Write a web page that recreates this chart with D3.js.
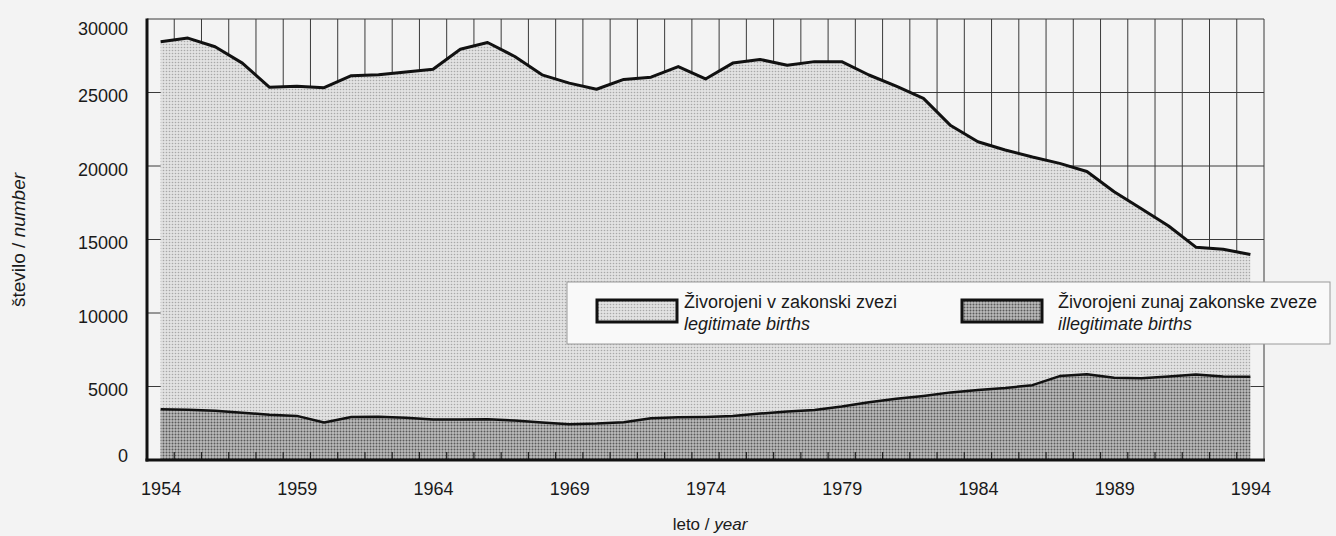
<!DOCTYPE html>
<html>
<head>
<meta charset="utf-8">
<script src="https://cdn.jsdelivr.net/npm/d3@7"></script>
<style>
  html, body { margin: 0; padding: 0; background: #f3f3f3; }
  svg { display: block; font-family: "Liberation Sans", Arial, sans-serif; }
</style>
</head>
<body>
<svg id="chart" width="1336" height="536"></svg>
<script>
// ── Data ──────────────────────────────────────────────────────────────────────
const years = [
  1954, 1955, 1956, 1957, 1958, 1959, 1960, 1961, 1962, 1963, 1964,
  1965, 1966, 1967, 1968, 1969, 1970, 1971, 1972, 1973, 1974, 1975,
  1976, 1977, 1978, 1979, 1980, 1981, 1982, 1983, 1984, 1985, 1986,
  1987, 1988, 1989, 1990, 1991, 1992, 1993, 1994
];
const legitimate = [
  28450, 28700, 28110, 27000, 25350, 25420, 25330, 26140, 26200, 26400, 26580,
  27940, 28400, 27450, 26200, 25640, 25220, 25890, 26040, 26760, 25920, 27000,
  27250, 26850, 27100, 27100, 26190, 25430, 24600, 22750, 21650, 21090, 20610,
  20180, 19630, 18250, 17090, 15920, 14480, 14340, 13980
];
const illegitimate = [
  3450, 3420, 3350, 3220, 3080, 3000, 2550, 2920, 2950, 2880, 2750,
  2750, 2780, 2680, 2550, 2440, 2480, 2570, 2840, 2900, 2930, 2990,
  3160, 3300, 3400, 3640, 3930, 4160, 4360, 4600, 4760, 4900, 5090,
  5710, 5840, 5590, 5560, 5680, 5820, 5680, 5660
];
const yTicks = [0, 5000, 10000, 15000, 20000, 25000, 30000];
const xLabelYears = [1954, 1959, 1964, 1969, 1974, 1979, 1984, 1989, 1994];
const legendNames   = ["Živorojeni v zakonski zvezi", "Živorojeni zunaj zakonske zveze"];
const legendNamesEn = ["legitimate births", "illegitimate births"];

// ── Layout ────────────────────────────────────────────────────────────────────
const margin = { top: 19, right: 72, bottom: 76, left: 147 };
const W = 1336, H = 536;
const innerW = W - margin.left - margin.right;
const innerH = H - margin.top - margin.bottom;

const svg = d3.select("#chart");
const defs = svg.append("defs");

function stipple(id, base, dot, r) {
  const p = defs.append("pattern")
    .attr("id", id).attr("patternUnits", "userSpaceOnUse")
    .attr("width", 3).attr("height", 3);
  p.append("rect").attr("width", 3).attr("height", 3).attr("fill", base);
  p.append("circle").attr("cx", 1.5).attr("cy", 1.5).attr("r", r).attr("fill", dot);
}
stipple("lightDots", "#e2e2e2", "#a8a8a8", 0.8);
stipple("darkDots", "#bcbcbc", "#5a5a5a", 1);

const g = svg.append("g").attr("transform", `translate(${margin.left},${margin.top})`);

const x = d3.scaleLinear().domain([1953.5, 1994.5]).range([0, innerW]);
const y = d3.scaleLinear().domain([0, 30000]).range([innerH, 0]);

const halfYears = years.slice(0, -1).map(d => d + 0.5);

// gridlines (hidden under the areas)
g.append("g").selectAll("line").data(yTicks.slice(1)).join("line")
  .attr("x1", 0).attr("x2", innerW)
  .attr("y1", d => y(d)).attr("y2", d => y(d))
  .attr("stroke", "#3a3a3a").attr("stroke-width", 1);
g.append("g").selectAll("line").data(halfYears).join("line")
  .attr("x1", d => x(d)).attr("x2", d => x(d))
  .attr("y1", 0).attr("y2", innerH)
  .attr("stroke", "#3a3a3a").attr("stroke-width", 1);
g.append("line")
  .attr("x1", x(1994.5)).attr("x2", x(1994.5)).attr("y1", 0).attr("y2", innerH)
  .attr("stroke", "#3a3a3a").attr("stroke-width", 1);

// areas
const rowsLeg = years.map((yr, i) => ({ year: yr, v: legitimate[i] }));
const rowsIll = years.map((yr, i) => ({ year: yr, v: illegitimate[i] }));

const area = d3.area().x(d => x(d.year)).y0(y(0)).y1(d => y(d.v));
const line = d3.line().x(d => x(d.year)).y(d => y(d.v));

g.append("path").datum(rowsLeg).attr("d", area).attr("fill", "url(#lightDots)");
g.append("path").datum(rowsLeg).attr("d", line)
  .attr("fill", "none").attr("stroke", "#111").attr("stroke-width", 3)
  .attr("stroke-linejoin", "round");

g.append("path").datum(rowsIll).attr("d", area).attr("fill", "url(#darkDots)");
g.append("path").datum(rowsIll).attr("d", line)
  .attr("fill", "none").attr("stroke", "#111").attr("stroke-width", 2.5)
  .attr("stroke-linejoin", "round");

// small inner ticks on the year axis
g.append("g").selectAll("line").data(halfYears).join("line")
  .attr("x1", d => x(d)).attr("x2", d => x(d))
  .attr("y1", innerH).attr("y2", innerH - 8)
  .attr("stroke", "#222").attr("stroke-width", 1.2);

// axes
const yAxis = g.append("g")
  .call(d3.axisLeft(y).tickValues(yTicks).tickFormat(d3.format("d"))
    .tickSize(0).tickPadding(19));
yAxis.select(".domain").remove();
// labels sit a little below their gridline, kept inside the frame at both ends
yAxis.selectAll("text")
  .attr("font-size", 18).attr("fill", "#1a1a1a")
  .attr("font-family", "'Liberation Sans', Arial, sans-serif")
  .attr("dy", null)
  .attr("y", d => Math.min(Math.max(y(d) + 3, 9), innerH - 5) - y(d) + 6.4);

const xAxis = g.append("g").attr("transform", `translate(0,${innerH})`)
  .call(d3.axisBottom(x).tickValues(xLabelYears).tickFormat(d3.format("d"))
    .tickSize(0).tickPadding(22));
xAxis.select(".domain").remove();
xAxis.selectAll("text")
  .attr("font-size", 18).attr("fill", "#1a1a1a")
  .attr("font-family", "'Liberation Sans', Arial, sans-serif");

g.append("line").attr("x1", 0).attr("x2", 0).attr("y1", -0.5).attr("y2", innerH + 1.5)
  .attr("stroke", "#111").attr("stroke-width", 3);
g.append("line").attr("x1", -1.5).attr("x2", innerW + 1).attr("y1", innerH).attr("y2", innerH)
  .attr("stroke", "#111").attr("stroke-width", 3);

// axis titles
const yTitle = svg.append("text")
  .attr("transform", "translate(25,240) rotate(-90)")
  .attr("text-anchor", "middle").attr("font-size", 19).attr("fill", "#1a1a1a");
yTitle.append("tspan").text("število / ");
yTitle.append("tspan").attr("font-style", "italic").text("number");

const xTitle = svg.append("text")
  .attr("x", 710).attr("y", 530)
  .attr("text-anchor", "middle").attr("font-size", 17).attr("fill", "#1a1a1a");
xTitle.append("tspan").text("leto / ");
xTitle.append("tspan").attr("font-style", "italic").text("year");

// legend
const legend = svg.append("g").attr("transform", "translate(567,282)");
legend.append("rect").attr("width", 763).attr("height", 62)
  .attr("fill", "#f9f9f9").attr("stroke", "#9a9a9a").attr("stroke-width", 1);

const legendItems = [
  { fill: "url(#lightDots)", sx: 30, tx: 117 },
  { fill: "url(#darkDots)",  sx: 395, tx: 491 }
];
legendItems.forEach((it, i) => {
  legend.append("rect")
    .attr("x", it.sx).attr("y", 18).attr("width", 80).attr("height", 22)
    .attr("fill", it.fill).attr("stroke", "#111").attr("stroke-width", 3);
  legend.append("text").attr("x", it.tx).attr("y", 26)
    .attr("font-size", 18).attr("fill", "#1a1a1a").text(legendNames[i]);
  legend.append("text").attr("x", it.tx).attr("y", 48)
    .attr("font-size", 18).attr("font-style", "italic").attr("fill", "#1a1a1a")
    .text(legendNamesEn[i]);
});
</script>
</body>
</html>
